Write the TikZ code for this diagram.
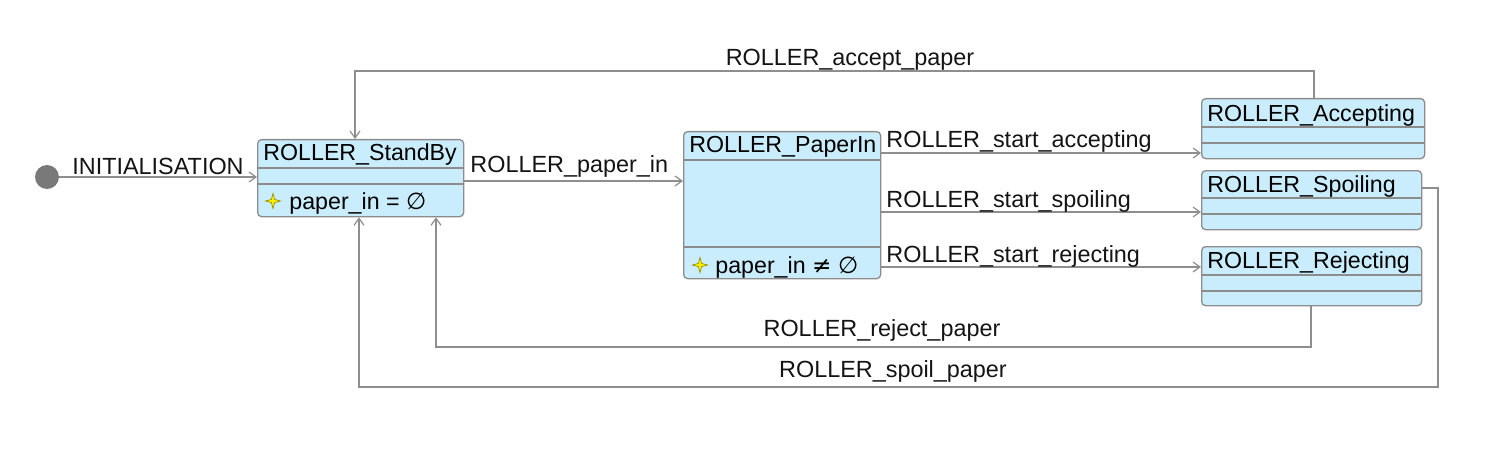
\documentclass[tikz,border=0pt]{standalone}
\usepackage{fontspec}
\setmainfont{Liberation Sans}
\newfontfamily\symfont{DejaVu Sans}
\usetikzlibrary{arrows.meta,calc}
\definecolor{boxfill}{HTML}{C9EDFC}
\definecolor{boxline}{HTML}{8C8C8C}
\definecolor{edgecol}{HTML}{8E8E8E}
\definecolor{starfill}{HTML}{FFF200}
\definecolor{starline}{HTML}{9A9000}
\tikzset{
  statebox/.style={draw=boxline, fill=boxfill, line width=0.65pt, rounded corners=2pt, inner sep=0pt, anchor=north west},
  sepline/.style={draw=boxline, line width=0.6pt},
  edge/.style={draw=edgecol, line width=0.6pt, -{Straight Barb[length=3.5pt,width=5pt,line width=0.6pt]}},
  lbl/.style={inner sep=0pt, font=\fontsize{11.7pt}{13pt}\selectfont, text=black!92},
  ttl/.style={inner sep=0pt, anchor=base west, font=\fontsize{11.6pt}{13pt}\selectfont, text=black},
  initdot/.style={circle, fill=gray!95!black, draw=none, minimum size=12pt, inner sep=0pt},
}
\newcommand{\stargly}[1]{%
  \fill[starfill, draw=starline, line width=0.35pt] ($(#1)+(0,-7.5)$) -- ($(#1)+(1.6,-1.6)$) -- ($(#1)+(7.5,0)$) -- ($(#1)+(1.6,1.6)$) -- ($(#1)+(0,7.5)$) -- ($(#1)+(-1.6,1.6)$) -- ($(#1)+(-7.5,0)$) -- ($(#1)+(-1.6,-1.6)$) -- cycle;}
\begin{document}
\begin{tikzpicture}[x=0.5pt, y=-0.5pt]
\useasboundingbox (0,0) rectangle (1504,449);
% boxes
\node[statebox, minimum width=103pt, minimum height=38.5pt] (sb) at (257,139) {};
\node[statebox, minimum width=98.5pt, minimum height=73.5pt] (pi) at (683,131) {};
\node[statebox, minimum width=111.5pt, minimum height=30pt] (acc) at (1201,98) {};
\node[statebox, minimum width=110pt, minimum height=29.5pt] (sp) at (1201,170) {};
\node[statebox, minimum width=110pt, minimum height=29.5pt] (rej) at (1201,246) {};
% separators
\draw[sepline] (sb.west |- 0,168) -- (sb.east |- 0,168);
\draw[sepline] (sb.west |- 0,184) -- (sb.east |- 0,184);
\draw[sepline] (pi.west |- 0,160) -- (pi.east |- 0,160);
\draw[sepline] (pi.west |- 0,247) -- (pi.east |- 0,247);
\draw[sepline] (acc.west |- 0,127) -- (acc.east |- 0,127);
\draw[sepline] (acc.west |- 0,143) -- (acc.east |- 0,143);
\draw[sepline] (sp.west |- 0,198) -- (sp.east |- 0,198);
\draw[sepline] (sp.west |- 0,214) -- (sp.east |- 0,214);
\draw[sepline] (rej.west |- 0,275) -- (rej.east |- 0,275);
\draw[sepline] (rej.west |- 0,291) -- (rej.east |- 0,291);
% titles
\node[ttl] (sbt) at (263,161) {ROLLER\_StandBy};
\node[ttl] (pit) at (689,153) {ROLLER\_PaperIn};
\node[ttl] (acct) at (1207,121) {ROLLER\_Accepting};
\node[ttl] (spt) at (1207,192) {ROLLER\_Spoiling};
\node[ttl] (rejt) at (1207,268) {ROLLER\_Rejecting};
% invariants
\coordinate (s1) at (273,201);
\stargly{s1}
\node[ttl] (inv1) at (289,209) {paper\_in = {\symfont ∅}};
\coordinate (s2) at (700,265);
\stargly{s2}
\node[ttl] (inv2) at (715,273) {paper\_in {\symfont ≠} {\symfont ∅}};
% initial
\node[initdot] (init) at (47,177) {};
% edges
\draw[edge] (init.east) -- (init.east -| sb.west);
\draw[edge] (sb.east |- 0,181) -- (pi.west |- 0,181);
\draw[edge] (pi.east |- 0,153) -- (acc.west |- 0,153);
\draw[edge] (pi.east |- 0,212) -- (sp.west |- 0,212);
\draw[edge] (pi.east |- 0,267) -- (rej.west |- 0,267);
\draw[edge] (acc.north -| 1314,0) |- (355,71) -- (sb.north -| 355,0);
\draw[edge] (rej.south -| 1311,0) |- (436,347) -- (sb.south -| 436,0);
\draw[edge] (sp.east |- 0,188) -| (1438,387) -| (sb.south -| 359,0);
% labels
\node[lbl, anchor=base west] (l0) at (72,175) {INITIALISATION};
\node[lbl, anchor=base west] (l1) at (470,172) {ROLLER\_paper\_in};
\node[lbl, anchor=base west] (l2) at (886,148) {ROLLER\_start\_accepting};
\node[lbl, anchor=base west] (l3) at (886,207) {ROLLER\_start\_spoiling};
\node[lbl, anchor=base west] (l4) at (886,262) {ROLLER\_start\_rejecting};
\node[lbl, anchor=base] (l5) at (850,66) {ROLLER\_accept\_paper};
\node[lbl, anchor=base] (l6) at (882,336) {ROLLER\_reject\_paper};
\node[lbl, anchor=base] (l7) at (893,377) {ROLLER\_spoil\_paper};
\end{tikzpicture}
\end{document}
